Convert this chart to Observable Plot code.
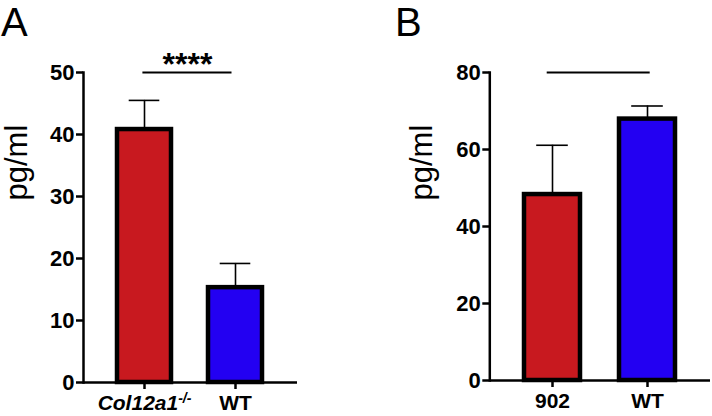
<!DOCTYPE html>
<html>
<head>
<meta charset="utf-8">
<script src="https://cdn.jsdelivr.net/npm/d3@7"></script>
<script src="https://cdn.jsdelivr.net/npm/@observablehq/plot@0.6"></script>
<style>
  html, body { margin: 0; padding: 0; background: #fff; }
  #wrap { position: relative; width: 712px; height: 416px; overflow: hidden; background: #fff;
          font-family: "Liberation Sans", Arial, Helvetica, sans-serif; }
  .panel { position: absolute; top: 0; }
  .letter { position: absolute; top: 0; font-size: 40px; line-height: normal; color: #000; }
</style>
</head>
<body>
<div id="wrap">
  <div class="panel" id="pa" style="left:0px"></div>
  <div class="panel" id="pb" style="left:356px"></div>
  <div class="letter" style="left:1px;">A</div>
  <div class="letter" style="left:395px;">B</div>
</div>
<script>
// ---- data ----
const groupsA = ["Col12a1-/-", "WT"];
const meanA = [40.8, 15.3];
const errA = [4.7, 3.9];
const yTicksA = [0, 10, 20, 30, 40, 50];
const yMaxA = 50;
const sigA = "****";

const groupsB = ["902", "WT"];
const meanB = [48.3, 67.9];
const errB = [12.8, 3.4];
const yTicksB = [0, 20, 40, 60, 80];
const yMaxB = 80;
const sigB = "";

const barColors = ["#c8191f", "#2300f2"];
const yLabel = "pg/ml";

const FONT = "'Liberation Sans', Arial, Helvetica, sans-serif";

function panel(o) {
  const rows = o.groups.map((g, i) => ({g, m: o.means[i], e: o.errs[i], c: barColors[i]}));
  const marks = [
    Plot.ruleX(rows, {x: "g", y1: "m", y2: d => d.m + d.e, stroke: "#000", strokeWidth: 1.6}),
    Plot.tickY(rows, {x: "g", y: d => d.m + d.e, stroke: "#000", strokeWidth: 1.6, insetLeft: o.capInset, insetRight: o.capInset}),
    Plot.barY(rows, {x: "g", y: "m", fill: "c", stroke: "#000", strokeWidth: 4.5}),
    Plot.ruleY([0], {stroke: "#000", strokeWidth: 2.5}),
    Plot.frame({anchor: "left", stroke: "#000", strokeWidth: 2.5}),
    Plot.axisY({ticks: o.yTicks, tickSize: 7, tickPadding: 2, fontSize: 22, fontWeight: "bold", strokeWidth: 2.5, label: null}),
    Plot.axisX({tickSize: 7, tickPadding: 6, fontSize: 21, fontWeight: "bold", strokeWidth: 2.5, label: null,
                tickFormat: d => d.replace("-/-", "")}),
    Plot.ruleY([{x1: o.groups[0], x2: o.groups[1], y: o.yMax}], {x1: "x1", x2: "x2", y: "y", stroke: "#000", strokeWidth: 2,
                insetLeft: o.sigInsetL, insetRight: o.sigInsetR}),
    Plot.text([yLabel], {text: d => d, frameAnchor: "left", rotate: -90, dx: o.labelDx, dy: o.labelDy,
                         fontSize: 31, lineAnchor: "middle", fill: "#000"})
  ];
  if (o.sig) {
    marks.push(Plot.text([o.sig], {text: d => d, y: o.yMax, frameAnchor: "middle", dx: o.starDx, dy: -8,
                                   fontSize: 32, fontWeight: "bold", lineAnchor: "middle", fill: "#000"}));
  }
  const svg = Plot.plot({
    width: o.width, height: 416,
    marginLeft: o.marginLeft, marginRight: o.marginRight, marginTop: 72, marginBottom: o.marginBottom,
    style: {fontFamily: FONT, background: "transparent", color: "#000", overflow: "visible"},
    x: {domain: o.groups, paddingInner: o.paddingInner, paddingOuter: o.paddingOuter, align: 0.5},
    y: {domain: [0, o.yMax]},
    marks
  });
  // superscript genotype suffix and italic gene name on the x tick labels
  svg.querySelectorAll("text").forEach(t => {
    o.groups.forEach(g => {
      const m = g.match(/^(.*?)(-\/-)$/);
      if (m && t.textContent === m[1]) {
        t.setAttribute("font-style", "italic");
        const sp = document.createElementNS("http://www.w3.org/2000/svg", "tspan");
        sp.setAttribute("dy", "-0.55em");
        sp.setAttribute("font-size", "14");
        sp.textContent = m[2];
        t.appendChild(sp);
      }
    });
  });
  return svg;
}

document.getElementById("pa").appendChild(panel({
  groups: groupsA, means: meanA, errs: errA, yTicks: yTicksA, yMax: yMaxA, sig: sigA,
  width: 356, marginLeft: 83, marginRight: 59, marginBottom: 34,
  paddingInner: 0.403, paddingOuter: 0.376, capInset: 11.7,
  sigInsetL: 25.4, sigInsetR: 30.5,
  labelDx: -66, labelDy: -27, starDx: -3
}));
document.getElementById("pb").appendChild(panel({
  groups: groupsB, means: meanB, errs: errB, yTicks: yTicksB, yMax: yMaxB, sig: sigB,
  width: 356, marginLeft: 133.3, marginRight: 2, marginBottom: 36,
  paddingInner: 0.408, paddingOuter: 0.36, capInset: 12.2,
  sigInsetL: 22.7, sigInsetR: 25.3,
  labelDx: -67.6, labelDy: -26, starDx: 0
}));
</script>
</body>
</html>
